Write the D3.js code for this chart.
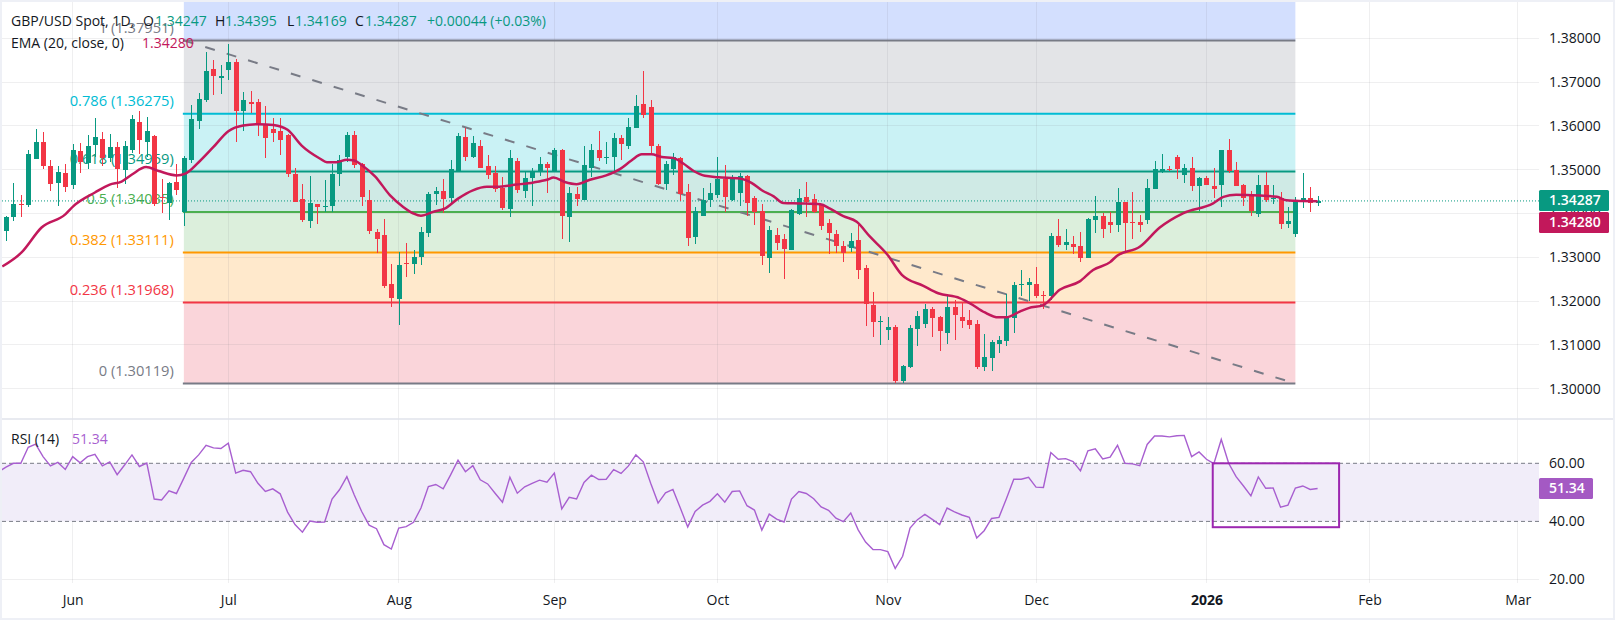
<!DOCTYPE html>
<html>
<head>
<meta charset="utf-8">
<title>GBP/USD Spot</title>
<script src="https://cdnjs.cloudflare.com/ajax/libs/d3/7.8.5/d3.min.js"></script>
<style>
  html, body { margin: 0; padding: 0; background: #eef0f6; }
  svg { display: block; }
  text { font-family: "Open Sans", "Noto Sans", sans-serif; font-size: 14px; fill: #131722; }
</style>
</head>
<body>
<div id="chart"></div>
<script>
// prices are typed in pips (1/10000) and converted below
var toPrice = function(v) { return v / 10000; };

var opens = [13361,13392,13422,13419,13524,13564,13508,13470,13492,13464,13542,13516,13556,13571,13527,13551,13499,13544,13608,13563,13578,13438,13423,13473,13404,13523,13612,13658,13730,13709,13728,13746,13635,13655,13655,13605,13592,13588,13580,13491,13433,13383,13421,13415,13417,13490,13530,13580,13514,13430,13357,13351,13239,13205,13288,13285,13301,13356,13444,13451,13435,13497,13574,13530,13555,13508,13492,13458,13410,13519,13451,13480,13496,13512,13496,13546,13392,13444,13430,13503,13546,13528,13530,13573,13553,13596,13649,13644,13553,13467,13501,13526,13448,13346,13394,13430,13442,13478,13430,13446,13485,13435,13405,13298,13351,13342,13317,13398,13437,13432,13419,13378,13353,13326,13321,13339,13276,13191,13153,13135,13141,13018,13050,13136,13148,13182,13164,13127,13186,13164,13157,13148,13050,13070,13102,13109,13161,13237,13237,13239,13215,13212,13348,13328,13330,13326,13298,13385,13394,13380,13373,13426,13380,13380,13385,13455,13496,13501,13530,13487,13505,13462,13480,13462,13464,13544,13499,13464,13439,13398,13464,13433,13435,13376,13353,13426,13435,13425].map(toPrice);
var highs = [13395,13469,13442,13544,13594,13587,13523,13508,13512,13559,13561,13580,13617,13585,13582,13564,13565,13624,13633,13620,13580,13478,13472,13512,13532,13648,13674,13769,13750,13740,13787,13752,13677,13680,13661,13646,13618,13618,13582,13504,13468,13486,13422,13476,13512,13534,13585,13589,13515,13453,13364,13387,13285,13311,13332,13316,13369,13449,13460,13478,13523,13584,13595,13576,13567,13533,13509,13483,13544,13527,13494,13503,13530,13517,13550,13547,13460,13460,13555,13558,13589,13564,13583,13580,13619,13671,13726,13659,13559,13521,13537,13528,13467,13414,13458,13469,13528,13510,13487,13492,13487,13439,13421,13371,13367,13353,13410,13455,13471,13444,13421,13387,13362,13337,13355,13373,13282,13221,13166,13164,13145,13054,13145,13177,13193,13186,13166,13217,13202,13198,13180,13157,13125,13111,13120,13217,13243,13271,13253,13278,13223,13355,13387,13364,13348,13357,13389,13439,13401,13403,13458,13426,13448,13396,13478,13519,13535,13508,13533,13512,13530,13483,13485,13503,13546,13569,13517,13467,13451,13487,13494,13464,13448,13414,13437,13492,13460,13440].map(toPrice);
var lows = [13338,13383,13392,13415,13524,13502,13452,13417,13449,13456,13492,13501,13529,13508,13517,13458,13468,13538,13536,13529,13417,13401,13385,13442,13371,13516,13592,13655,13671,13673,13704,13563,13588,13629,13576,13527,13564,13533,13483,13427,13380,13367,13376,13404,13404,13463,13517,13504,13417,13353,13310,13231,13187,13145,13255,13262,13283,13347,13419,13401,13421,13497,13521,13526,13503,13478,13448,13408,13392,13446,13435,13417,13485,13446,13496,13342,13335,13417,13430,13483,13519,13514,13494,13523,13548,13596,13619,13536,13464,13453,13487,13428,13326,13330,13394,13414,13435,13404,13428,13417,13394,13373,13282,13264,13316,13251,13317,13396,13392,13401,13362,13307,13310,13289,13312,13251,13144,13119,13100,13112,13014,13014,13048,13098,13139,13118,13086,13102,13111,13139,13136,13045,13041,13041,13082,13098,13127,13212,13201,13207,13182,13203,13323,13317,13307,13289,13298,13355,13344,13355,13358,13312,13342,13358,13376,13455,13492,13498,13478,13469,13451,13405,13464,13435,13414,13492,13462,13417,13394,13392,13426,13421,13364,13367,13346,13412,13403,13417].map(toPrice);
var closes = [13393,13421,13419,13535,13564,13508,13467,13494,13460,13546,13517,13555,13574,13527,13551,13501,13553,13615,13567,13589,13421,13435,13469,13453,13526,13615,13662,13726,13715,13714,13746,13635,13658,13649,13603,13572,13583,13567,13491,13427,13385,13423,13415,13417,13491,13523,13580,13510,13438,13361,13341,13235,13207,13282,13285,13301,13357,13444,13451,13433,13501,13576,13528,13562,13503,13489,13455,13412,13526,13453,13480,13496,13512,13503,13544,13394,13446,13433,13510,13546,13526,13530,13573,13558,13598,13646,13624,13553,13468,13514,13528,13444,13344,13405,13430,13446,13478,13437,13483,13485,13423,13403,13303,13362,13332,13319,13407,13435,13426,13403,13371,13355,13326,13310,13337,13271,13194,13153,13155,13141,13018,13052,13139,13166,13182,13161,13132,13186,13168,13155,13145,13050,13073,13107,13111,13164,13236,13239,13244,13212,13213,13348,13328,13335,13323,13298,13387,13394,13364,13373,13426,13378,13378,13373,13458,13501,13501,13499,13501,13505,13462,13480,13464,13455,13544,13496,13462,13435,13405,13464,13430,13435,13376,13383,13430,13435,13423,13429].map(toPrice);

var emaBars = [-0.5,2.1,4.8,8,9.1,12,14,15.6,17,18.9,20.6,23,24.2,26,28,30,32,34.1,36.1,38,39.9,42.4,43.3,44.6,46,47,48.2,49.8,51.8,53.6,55,56,57.7,59.2,61,63,64.9,66.2,68.9,71.2,73,73.9,75.4,77,78.8,81,82.9,84.4,85.8,87.1,88.5,90,91.4,92.8,94.3,96.1,99,100.6,102,103.6,104.9,107.2,109.9,111.2,113,114.8,116.6,118.9,120.9,123.8,125.8,128.7,130.1,132.1,133.9,135,136.8,138,140,142.2,144.9,146.7,149,149.9,153,155.7,158.9,162.9,164.3,166,169.2,171.5,172.8,174,177];
var emaValues = [13279,13311,13368,13398,13417,13448,13466,13473,13489,13506,13497,13487,13491,13517,13552,13588,13601,13604,13602,13591,13555,13525,13517,13517,13523,13521,13508,13485,13442,13415,13400,13395,13404,13411,13434,13453,13461,13461,13466,13471,13477,13482,13472,13467,13477,13487,13502,13521,13535,13535,13529,13527,13514,13497,13486,13483,13480,13470,13453,13439,13424,13423,13421,13411,13394,13381,13347,13307,13260,13235,13218,13207,13195,13174,13163,13163,13176,13184,13191,13226,13245,13271,13289,13303,13324,13368,13401,13423,13438,13443,13441,13438,13430,13429,13428].map(toPrice);

// first value belongs to the bar just left of the screen
var rsiFirstBar = -1;
var rsiValues = [57.1,58.7,60,60,65.5,66.6,62.3,59.1,60.3,57.9,62.3,60.2,62.3,63.1,59.1,60.5,56.1,59.4,62.9,58.9,60.1,47.7,47.4,50.5,49.6,54.9,60.3,62.9,66.2,65.3,65.1,66.9,56.6,57.6,57.1,53.1,50.3,51.2,49.5,43.2,38.9,36.3,40.1,39.7,39.8,47.7,50.9,55.4,49.1,43.4,38.7,37.5,32,30.5,37.7,38.2,39.7,44.6,52,52.7,51.2,56,61.1,57.1,59.2,54.3,52.9,49.7,46.6,55.2,49.7,51.9,53.1,54.2,
  53.5,56.6,44.3,48.3,47.7,53.4,55.9,54.4,54.5,57.8,56.5,59.1,62.9,60.5,53.1,46.3,49.8,51,44.6,38.1,43.4,45.6,46.9,49.5,46.6,50.3,50.5,45.4,43.9,37,42.5,40.8,39.8,47.7,50.3,49.6,47.8,45,43.8,41.1,39.9,42.9,37.1,32.9,30.3,30.3,29.6,23.8,28,37.7,40.6,42.4,40.7,38.9,44.6,43.3,42.2,41.4,34.3,36.8,41,41.4,47.8,54.5,54.5,55.2,51.8,51.7,63.7,61.4,61.6,60.6,57.4,
  64.3,65,61.5,62.1,66.2,60,59.8,59.2,66.5,69.4,69.4,69.1,69.5,69.6,62.3,63.9,61.4,59.9,68.2,60,55.4,52.2,48.8,55.3,51.4,51.5,44.9,45.6,51.5,52.2,51,51.34];

var priceTicks = [1.30,1.31,1.32,1.33,1.34,1.35,1.36,1.37,1.38];
var rsiTicks = [20,40,60];
var monthLabels = ["Jun","Jul","Aug","Sep","Oct","Nov","Dec","2026","Feb","Mar"];
var monthBars = [9,30,53,74,96,119,139,162,184,204];

var fibRatios = ["1","0.786","0.618","0.5","0.382","0.236","0"];
var fibPrices = [1.37951,1.36275,1.34959,1.34035,1.33111,1.31968,1.30119];
var fibColors = ["#787b86","#00bcd4","#089981","#4caf50","#ff9800","#f23645","#787b86"];
var fibFills = ["#e3e4e7","#caf2f5","#cfeae5","#dcefdc","#ffe9cc","#fad5da"];
var fibBars = [24,174];

var lastPrice = 1.34287;
var lastEma = 1.34280;
var lastRsi = 51.34;
var rsiBoxBars = [162.85,179.9];
var rsiBoxValues = [38,60];

var width = 1615, height = 620;
var paneLeft = 2, paneRight = 1539, axisX = 1549;
var priceTop = 2, priceBottom = 418, rsiTop = 420, rsiBottom = 583;

var green = "#089981", red = "#f23645", emaColor = "#c2185b", rsiColor = "#a85fd0";

var x = d3.scaleLinear().domain([0,177]).range([6,1317.6]);
var y = d3.scaleLinear().domain([1.30,1.38]).range([388.7,38.3]);
var yRsi = d3.scaleLinear().domain([20,60]).range([579.5,463.3]);

var svg = d3.select("#chart").append("svg")
  .attr("width", width)
  .attr("height", height);

svg.append("rect")
  .attr("x", paneLeft).attr("y", 2)
  .attr("width", 1611).attr("height", 616)
  .attr("fill", "#fff");

var defs = svg.append("defs");
defs.append("clipPath").attr("id", "priceClip").append("rect")
  .attr("x", paneLeft).attr("y", priceTop)
  .attr("width", paneRight - paneLeft).attr("height", priceBottom - priceTop);
defs.append("clipPath").attr("id", "rsiClip").append("rect")
  .attr("x", paneLeft).attr("y", rsiTop)
  .attr("width", paneRight - paneLeft).attr("height", rsiBottom - rsiTop);

// fib zones
var fib = svg.append("g");
fib.append("rect")
  .attr("x", x(fibBars[0])).attr("y", priceTop)
  .attr("width", x(fibBars[1]) - x(fibBars[0]))
  .attr("height", y(fibPrices[0]) - priceTop)
  .attr("fill", "#d3dffe");
fibFills.forEach(function(c, i) {
  fib.append("rect")
    .attr("x", x(fibBars[0])).attr("y", y(fibPrices[i]))
    .attr("width", x(fibBars[1]) - x(fibBars[0]))
    .attr("height", y(fibPrices[i+1]) - y(fibPrices[i]))
    .attr("fill", c);
});

// grid
var grid = svg.append("g")
  .attr("stroke", "rgba(120,123,134,0.12)")
  .attr("shape-rendering", "crispEdges");
grid.selectAll("line.h").data(priceTicks).enter().append("line")
  .attr("class", "h")
  .attr("x1", paneLeft).attr("x2", paneRight)
  .attr("y1", function(d) { return y(d); })
  .attr("y2", function(d) { return y(d); });
grid.selectAll("line.r").data([20]).enter().append("line")
  .attr("class", "r")
  .attr("x1", paneLeft).attr("x2", paneRight)
  .attr("y1", function(d) { return yRsi(d); })
  .attr("y2", function(d) { return yRsi(d); });
grid.selectAll("line.v").data(monthBars).enter().append("line")
  .attr("class", "v")
  .attr("x1", function(d) { return x(d); })
  .attr("x2", function(d) { return x(d); })
  .attr("y1", priceTop).attr("y2", rsiBottom);

// fib lines and labels
fib = svg.append("g");
fibPrices.forEach(function(p, i) {
  fib.append("line")
    .attr("x1", x(fibBars[0]) - 1).attr("x2", x(fibBars[1]))
    .attr("y1", y(p)).attr("y2", y(p))
    .attr("stroke", fibColors[i])
    .attr("stroke-width", 2);
  fib.append("text")
    .attr("x", x(fibBars[0]) - 10)
    .attr("y", y(p) - 7.5)
    .attr("text-anchor", "end")
    .style("font-size", "14.7px")
    .style("fill", fibColors[i])
    .text(fibRatios[i] + " (" + p.toFixed(5) + ")");
});

// trend line
svg.append("line")
  .attr("x1", x(fibBars[0])).attr("y1", y(fibPrices[0]))
  .attr("x2", x(fibBars[1])).attr("y2", y(fibPrices[6]))
  .attr("stroke", "#787b86")
  .attr("stroke-width", 2)
  .attr("stroke-dasharray", "10,12.4");

// last price line
svg.append("line")
  .attr("x1", paneLeft).attr("x2", paneRight)
  .attr("y1", y(lastPrice)).attr("y2", y(lastPrice))
  .attr("stroke", green)
  .attr("stroke-dasharray", "1,2");

// candles
var candles = svg.append("g").attr("shape-rendering", "crispEdges");
var bars = d3.range(opens.length);
candles.selectAll("rect.wick").data(bars).enter().append("rect")
  .attr("class", "wick")
  .attr("x", function(i) { return Math.round(x(i)) - 0.5; })
  .attr("y", function(i) { return y(highs[i]); })
  .attr("width", 1)
  .attr("height", function(i) { return y(lows[i]) - y(highs[i]); })
  .attr("fill", function(i) { return closes[i] >= opens[i] ? green : red; });
candles.selectAll("rect.body").data(bars).enter().append("rect")
  .attr("class", "body")
  .attr("x", function(i) { return Math.round(x(i)) - 2.5; })
  .attr("y", function(i) { return y(Math.max(opens[i], closes[i])); })
  .attr("width", 5)
  .attr("height", function(i) { return Math.max(1, Math.abs(y(opens[i]) - y(closes[i]))); })
  .attr("fill", function(i) { return closes[i] >= opens[i] ? green : red; });

// EMA
var emaLine = d3.line()
  .x(function(d, i) { return x(emaBars[i]); })
  .y(function(d) { return y(d); })
  .curve(d3.curveMonotoneX);
svg.append("path")
  .attr("clip-path", "url(#priceClip)")
  .attr("d", emaLine(emaValues))
  .attr("fill", "none")
  .attr("stroke", emaColor)
  .attr("stroke-width", 2.5);

// pane separator
svg.append("line")
  .attr("x1", paneLeft).attr("x2", 1613)
  .attr("y1", 419).attr("y2", 419)
  .attr("stroke", "#e0e3eb")
  .attr("stroke-width", 1.5);

// RSI band
svg.append("rect")
  .attr("x", paneLeft).attr("y", yRsi(60))
  .attr("width", paneRight - paneLeft)
  .attr("height", yRsi(40) - yRsi(60))
  .attr("fill", "#f1edf9");
svg.selectAll("line.rsiLevel").data([60,40]).enter().append("line")
  .attr("class", "rsiLevel")
  .attr("x1", paneLeft).attr("x2", paneRight)
  .attr("y1", function(d) { return yRsi(d); })
  .attr("y2", function(d) { return yRsi(d); })
  .attr("stroke", "#787b86")
  .attr("stroke-dasharray", "4,3");

var rsiLine = d3.line()
  .x(function(d, i) { return x(rsiFirstBar + i); })
  .y(function(d) { return yRsi(d); });
svg.append("path")
  .attr("clip-path", "url(#rsiClip)")
  .attr("d", rsiLine(rsiValues))
  .attr("fill", "none")
  .attr("stroke", rsiColor)
  .attr("stroke-width", 1.4);

// box over the RSI
svg.append("rect")
  .attr("x", x(rsiBoxBars[0])).attr("y", yRsi(rsiBoxValues[1]))
  .attr("width", x(rsiBoxBars[1]) - x(rsiBoxBars[0]))
  .attr("height", yRsi(rsiBoxValues[0]) - yRsi(rsiBoxValues[1]))
  .attr("fill", "none")
  .attr("stroke", "#9c27b0")
  .attr("stroke-width", 2);

// axes
var priceAxis = svg.append("g")
  .attr("transform", "translate(" + axisX + ",0)")
  .call(d3.axisRight(y).tickValues(priceTicks).tickSize(0).tickPadding(0).tickFormat(d3.format(".5f")));
var rsiAxis = svg.append("g")
  .attr("transform", "translate(" + axisX + ",0)")
  .call(d3.axisRight(yRsi).tickValues(rsiTicks).tickSize(0).tickPadding(0).tickFormat(d3.format(".2f")));
var timeAxis = svg.append("g")
  .attr("transform", "translate(0,595)")
  .call(d3.axisBottom(x).tickValues(monthBars).tickSize(0).tickPadding(0)
    .tickFormat(function(d, i) { return monthLabels[i]; }));
[priceAxis, rsiAxis, timeAxis].forEach(function(a) {
  a.select(".domain").remove();
  a.attr("font-family", null).attr("font-size", null);
});
timeAxis.selectAll("text")
  .style("font-weight", function(d, i) { return monthLabels[i] === "2026" ? "700" : "400"; });

// price tags
function tag(yMid, w, color, label) {
  svg.append("rect")
    .attr("x", paneRight).attr("y", yMid - 10.5)
    .attr("width", w).attr("height", 21)
    .attr("rx", 1.5)
    .attr("fill", color);
  svg.append("text")
    .attr("x", axisX).attr("y", yMid)
    .attr("dy", "0.35em")
    .style("fill", "#fff")
    .style("font-weight", "600")
    .text(label);
}
tag(200.5, 70, green, lastPrice.toFixed(5));
tag(222.5, 70, emaColor, lastEma.toFixed(5));
tag(yRsi(lastRsi), 54, "#a459c3", lastRsi.toFixed(2));

// legends
var legendRows = [
  { x: 11, y: 26, c: "#131722", t: "GBP/USD Spot, 1D," },
  { x: 143, y: 26, c: "#131722", t: "O" },
  { x: 155, y: 26, c: green, t: "1.34247" },
  { x: 215, y: 26, c: "#131722", t: "H" },
  { x: 225, y: 26, c: green, t: "1.34395" },
  { x: 287, y: 26, c: "#131722", t: "L" },
  { x: 295, y: 26, c: green, t: "1.34169" },
  { x: 355, y: 26, c: "#131722", t: "C" },
  { x: 365, y: 26, c: green, t: "1.34287" },
  { x: 427, y: 26, c: green, t: "+0.00044 (+0.03%)" },
  { x: 11, y: 48, c: "#131722", t: "EMA (20, close, 0)" },
  { x: 142, y: 48, c: emaColor, t: "1.34280" },
  { x: 11, y: 444, c: "#131722", t: "RSI (14)" },
  { x: 72, y: 444, c: rsiColor, t: "51.34" }
];
svg.selectAll("text.legend").data(legendRows).enter().append("text")
  .attr("class", "legend")
  .attr("x", function(d) { return d.x; })
  .attr("y", function(d) { return d.y; })
  .style("fill", function(d) { return d.c; })
  .text(function(d) { return d.t; });
</script>
</body>
</html>
